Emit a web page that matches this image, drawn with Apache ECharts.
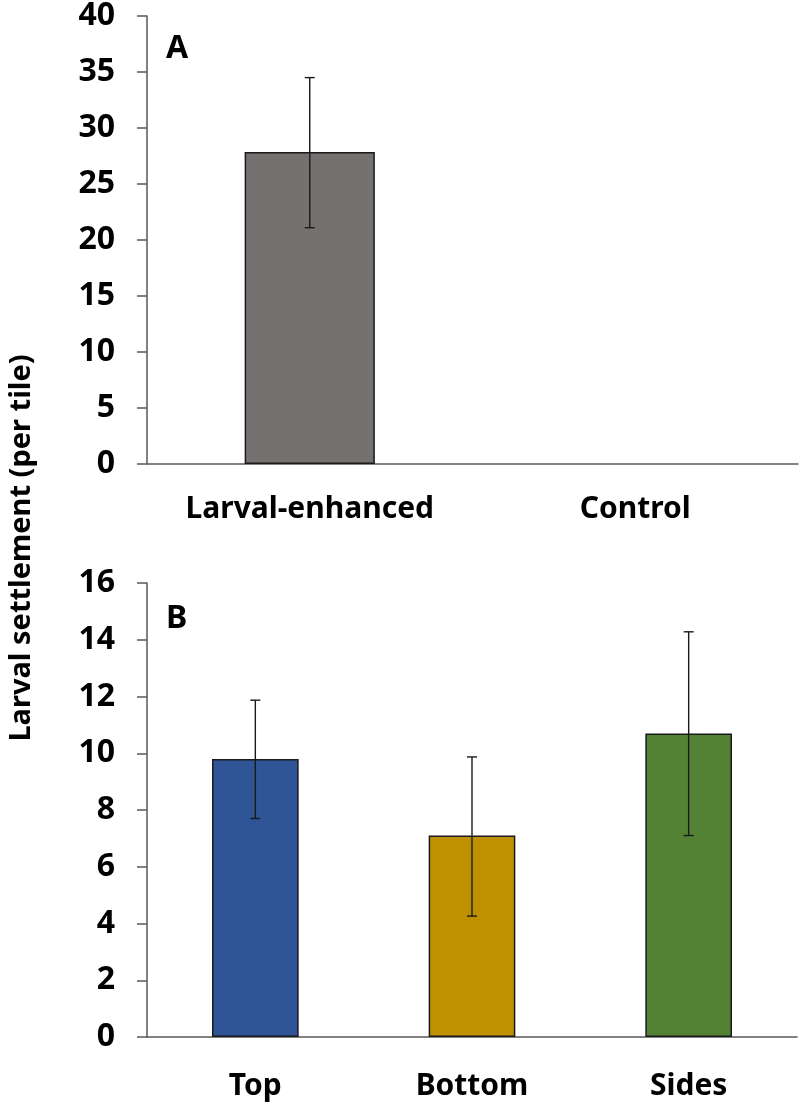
<!DOCTYPE html>
<html>
<head>
<meta charset="utf-8">
<script src="https://cdn.jsdelivr.net/npm/echarts@6/dist/echarts.min.js"></script>
<style>html,body{margin:0;padding:0;background:#fff;}#c{width:800px;height:1103px;}</style>
</head>
<body>
<div id="c"></div>
<script>
// Panel A data
const catsA = ['Larval-enhanced', 'Control'];
const valsA = [27.85, 0];
const errLowA = [21.1, null];
const errHighA = [34.5, null];
const colorsA = ['#767171', '#767171'];

// Panel B data
const catsB = ['Top', 'Bottom', 'Sides'];
const valsB = [9.8, 7.1, 10.7];
const errLowB = [7.7, 4.26, 7.1];
const errHighB = [11.87, 9.87, 14.28];
const colorsB = ['#2F5597', '#BF9000', '#548235'];

const yTicksA = {min: 0, max: 40, interval: 5};
const yTicksB = {min: 0, max: 16, interval: 2};

const yTitle = 'Larval settlement (per tile)';
const FONT = 'Noto Sans';

const chart = echarts.init(document.getElementById('c'), null, {renderer: 'canvas'});

function errData(lows, highs) {
  const out = [];
  lows.forEach((l, i) => { if (l != null) out.push([i, l, highs[i]]); });
  return out;
}

function errRender(params, api) {
  const i = api.value(0);
  const lo = api.coord([i, api.value(1)]);
  const hi = api.coord([i, api.value(2)]);
  const w = 5;
  const st = {stroke: '#1a1a1a', lineWidth: 1.4};
  return {
    type: 'group',
    children: [
      {type: 'line', shape: {x1: lo[0], y1: lo[1], x2: hi[0], y2: hi[1]}, style: st},
      {type: 'line', shape: {x1: hi[0] - w, y1: hi[1], x2: hi[0] + w, y2: hi[1]}, style: st},
      {type: 'line', shape: {x1: lo[0] - w, y1: lo[1], x2: lo[0] + w, y2: lo[1]}, style: st}
    ]
  };
}

function barData(vals, colors) {
  return vals.map((v, i) => ({
    value: v,
    itemStyle: {color: colors[i], borderWidth: v > 0 ? 1.5 : 0}
  }));
}

const axisLineStyle = {color: '#595959', width: 1.5};
const yLabel = {color: '#000', fontFamily: FONT, fontWeight: 'bold', fontSize: 32, margin: 32};
const xLabelA = {color: '#000', fontFamily: FONT, fontWeight: 'bold', fontSize: 30, margin: 30};
const xLabelB = {color: '#000', fontFamily: FONT, fontWeight: 'bold', fontSize: 30, margin: 34};

const option = {
  animation: false,
  backgroundColor: '#fff',
  grid: [
    {left: 147, right: 2, top: 14, height: 450},
    {left: 147, right: 3, top: 583, height: 454}
  ],
  xAxis: [
    {type: 'category', gridIndex: 0, data: catsA,
     axisLine: {lineStyle: axisLineStyle}, axisTick: {length: 12, lineStyle: axisLineStyle},
     axisLabel: xLabelA},
    {type: 'category', gridIndex: 1, data: catsB,
     axisLine: {lineStyle: axisLineStyle}, axisTick: {length: 12, lineStyle: axisLineStyle},
     axisLabel: xLabelB}
  ],
  yAxis: [
    {type: 'value', gridIndex: 0, min: yTicksA.min, max: yTicksA.max, interval: yTicksA.interval,
     axisLine: {show: true, lineStyle: axisLineStyle}, axisTick: {show: true, length: 10, lineStyle: axisLineStyle},
     splitLine: {show: false}, axisLabel: yLabel},
    {type: 'value', gridIndex: 1, min: yTicksB.min, max: yTicksB.max, interval: yTicksB.interval,
     axisLine: {show: true, lineStyle: axisLineStyle}, axisTick: {show: true, length: 10, lineStyle: axisLineStyle},
     splitLine: {show: false}, axisLabel: yLabel}
  ],
  series: [
    {type: 'bar', xAxisIndex: 0, yAxisIndex: 0, barWidth: '40%',
     data: barData(valsA, colorsA),
     itemStyle: {borderColor: '#1a1a1a'}},
    {type: 'custom', xAxisIndex: 0, yAxisIndex: 0, renderItem: errRender, data: errData(errLowA, errHighA), z: 5},
    {type: 'bar', xAxisIndex: 1, yAxisIndex: 1, barWidth: '40%',
     data: barData(valsB, colorsB),
     itemStyle: {borderColor: '#1a1a1a'}},
    {type: 'custom', xAxisIndex: 1, yAxisIndex: 1, renderItem: errRender, data: errData(errLowB, errHighB), z: 5}
  ],
  graphic: [
    {type: 'text', left: 166, top: 33, style: {text: 'A', fontFamily: FONT, fontWeight: 'bold', fontSize: 32, fill: '#000'}},
    {type: 'text', left: 166, top: 603, style: {text: 'B', fontFamily: FONT, fontWeight: 'bold', fontSize: 32, fill: '#000'}},
    {type: 'text', x: 22, y: 548, rotation: Math.PI / 2,
     style: {text: yTitle, fontFamily: FONT, fontWeight: 'bold', fontSize: 29, fill: '#000', align: 'center', verticalAlign: 'middle'}}
  ]
};
chart.setOption(option);
</script>
</body>
</html>
